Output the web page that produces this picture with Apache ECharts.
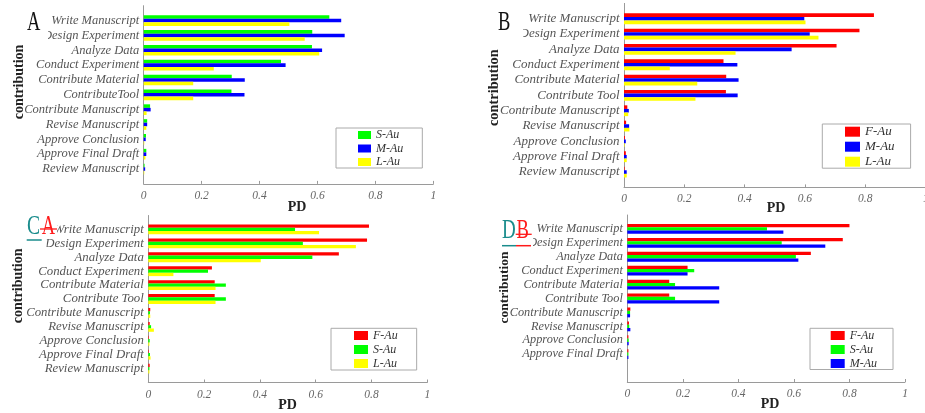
<!DOCTYPE html>
<html>
<head>
<meta charset="utf-8">
<script src="https://cdn.jsdelivr.net/npm/echarts@6/dist/echarts.min.js"></script>
<style>
html,body{margin:0;padding:0;background:#fff;}
#chart{width:925px;height:413px;}
</style>
</head>
<body>
<div id="chart"></div>
<script>
// ---------- data ----------
const catsA = ['Write Manuscript','Design Experiment','Analyze Data','Conduct Experiment','Contribute Material','ContributeTool','Contribute Manuscript','Revise Manuscript','Approve Conclusion','Approve Final Draft','Review Manuscript'];
const catsB = ['Write Manuscript','Design Experiment','Analyze Data','Conduct Experiment','Contribute Material','Contribute Tool','Contribute Manuscript','Revise Manuscript','Approve Conclusion','Approve Final Draft','Review Manuscript'];
const catsC = catsB.slice();
const catsD = ['Write Manuscript','Design Experiment','Analyze Data','Conduct Experiment','Contribute Material','Contribute Tool','Contribute Manuscript','Revise Manuscript','Approve Conclusion','Approve Final Draft'];

const xTicks = [0, 0.2, 0.4, 0.6, 0.8, 1];

const A_S = [0.641,0.582,0.581,0.474,0.304,0.303,0.022,0.012,0.008,0.009,0.003];
const A_M = [0.682,0.694,0.616,0.490,0.349,0.348,0.024,0.012,0.007,0.009,0.005];
const A_L = [0.503,0.556,0.606,0.242,0.171,0.171,0.010,0.009,0.002,0.006,0.002];

const B_F = [0.829,0.781,0.705,0.330,0.339,0.338,0.011,0.007,0.003,0.006,0.002];
const B_M = [0.598,0.616,0.556,0.376,0.380,0.377,0.016,0.017,0.006,0.009,0.009];
const B_L = [0.602,0.645,0.370,0.152,0.243,0.237,0.014,0.018,0.002,0.009,0.009];

const C_F = [0.791,0.784,0.683,0.228,0.238,0.238,0.007,0.005,0.002,0.002,0.005];
const C_S = [0.526,0.554,0.588,0.214,0.278,0.278,0.006,0.010,0.005,0.006,0.004];
const C_L = [0.612,0.744,0.403,0.090,0.241,0.241,0.007,0.020,0.004,0.008,0.004];

const D_F = [0.800,0.776,0.661,0.217,0.151,0.151,0.011,0.006,0.004,0.004];
const D_S = [0.503,0.556,0.607,0.241,0.172,0.172,0.010,0.007,0.005,0.004];
const D_M = [0.562,0.713,0.616,0.217,0.331,0.331,0.010,0.011,0.005,0.004];

// ---------- style ----------
const SERIF = '"Liberation Serif","Times New Roman",serif';
const COLORS = {'F-Au':'#ff0000','S-Au':'#00ff00','M-Au':'#0000ff','L-Au':'#ffff00'};
const NSLOT = 13;

function pad(arr, fill){
  const out = [fill].concat(arr);
  while(out.length < NSLOT) out.push(fill);
  return out;
}

const panels = [
  {grid:{left:143.7, top:5.7, width:289.6, height:178.2}, cats:catsA, labelSize:12.5, barW:3.55,
   series:[['S-Au',A_S],['M-Au',A_M],['L-Au',A_L]],
   legend:{left:336, top:128, padding:[1,19,0,22], itemWidth:13, itemHeight:8, itemGap:1.5, fontSize:12}},
  {grid:{left:624, top:3.4, width:301.5, height:184}, cats:catsB, labelSize:13, barW:3.6,
   series:[['F-Au',B_F],['M-Au',B_M],['L-Au',B_L]],
   legend:{left:822.3, top:124, padding:[1.2,16,0,22.7], itemWidth:15, itemHeight:10, itemGap:2, fontSize:13}},
  {grid:{left:148.3, top:215.5, width:279, height:167}, cats:catsC, labelSize:12.8, barW:3.3,
   series:[['F-Au',C_F],['S-Au',C_S],['L-Au',C_L]],
   legend:{left:331, top:328.3, padding:[1.2,19,0.5,23], itemWidth:14, itemHeight:9, itemGap:2, fontSize:12}},
  {grid:{left:627.3, top:215, width:277.7, height:167}, cats:catsD, labelSize:12.3, barW:3.3,
   series:[['F-Au',D_F],['S-Au',D_S],['M-Au',D_M]],
   legend:{left:810, top:328.3, padding:[1.2,16,0,20.7], itemWidth:14, itemHeight:9, itemGap:2, fontSize:12}}
];

const grid = [], xAxis = [], yAxis = [], series = [], legend = [];
panels.forEach((p, i) => {
  grid.push(Object.assign({containLabel:false, outerBoundsMode:'none'}, p.grid));
  xAxis.push({
    type:'value', gridIndex:i, min:xTicks[0], max:xTicks[xTicks.length-1],
    interval:xTicks[1]-xTicks[0],
    axisLine:{show:true, lineStyle:{color:'#9a9a9a', width:1}},
    axisTick:{show:true, inside:true, length:3, lineStyle:{color:'#9a9a9a'}},
    splitLine:{show:false},
    axisLabel:{margin:6, fontFamily:SERIF, fontStyle:'italic', fontSize:11.5, color:'#666'}
  });
  yAxis.push({
    type:'category', gridIndex:i, inverse:true, boundaryGap:false,
    data:pad(p.cats, ''),
    axisLine:{show:true, lineStyle:{color:'#9a9a9a', width:1}},
    axisTick:{show:false},
    splitLine:{show:false},
    axisLabel:{interval:0, margin:4.5, fontFamily:SERIF, fontStyle:'italic', fontSize:p.labelSize, color:'#555'}
  });
  p.series.forEach(([name, vals]) => {
    series.push({
      type:'bar', name:name, xAxisIndex:i, yAxisIndex:i,
      data:pad(vals, null), barWidth:p.barW, barGap:'0%',
      itemStyle:{color:COLORS[name]}, silent:true
    });
  });
  const L = p.legend;
  legend.push({
    data:p.series.map(s=>s[0]), orient:'vertical', left:L.left, top:L.top,
    padding:L.padding, itemWidth:L.itemWidth, itemHeight:L.itemHeight, itemGap:L.itemGap,
    icon:'rect', borderColor:'#aaa', borderWidth:1, backgroundColor:'#fff',
    selectedMode:false,
    textStyle:{fontFamily:SERIF, fontStyle:'italic', fontSize:L.fontSize, lineHeight:L.fontSize, color:'#333'}
  });
});

function txt(t, x, y, opt){
  return Object.assign({type:'text', x:x, y:y, z:100,
    style:Object.assign({text:t, fontFamily:SERIF, textAlign:'center', textVerticalAlign:'middle', verticalAlign:'middle', fill:'#222'}, opt.style||{})},
    opt.el||{});
}
function rect(x,y,w,h){ return {type:'rect', z:90, shape:{x:x,y:y,width:w,height:h}, style:{fill:'#fff'}}; }
function line(x1,y1,x2,y2,color,w){ return {type:'line', z:100, shape:{x1:x1,y1:y1,x2:x2,y2:y2}, style:{stroke:color, lineWidth:w}}; }

const TEAL = '#1a8c8c', RED = '#ff1a1a';
const graphic = [
  // cover boxes behind the panel letters
  rect(0,0,48,44), rect(470,0,53,44),
  rect(0,208,57,28), rect(26,236,20.5,15),
  rect(495,208,40,28), rect(512,236,21,15),
  // panel letters
  txt('A', 27, 22.5, {style:{fontSize:28, textAlign:'left', fill:'#111'}, el:{scaleX:0.66}}),
  txt('B', 498, 22.5, {style:{fontSize:28, textAlign:'left', fill:'#111'}, el:{scaleX:0.66}}),
  txt('C', 27, 227, {style:{fontSize:28, textAlign:'left', fill:TEAL}, el:{scaleX:0.7}}),
  txt('A', 41.7, 227, {style:{fontSize:28, textAlign:'left', fill:RED}, el:{scaleX:0.66}}),
  line(26.7,240,41.7,240,TEAL,1.5),
  line(40,229,57,229,RED,1.3),
  txt('D', 502, 230.5, {style:{fontSize:28, textAlign:'left', fill:TEAL}, el:{scaleX:0.68}}),
  txt('B', 516.5, 230.5, {style:{fontSize:28, textAlign:'left', fill:RED}, el:{scaleX:0.66}}),
  line(502,245.7,516,245.7,TEAL,1.5),
  line(516,245.7,531,245.7,RED,1.5),
  line(515.7,234.3,531.7,234.3,RED,1.3),
  // axis titles
  txt('contribution', 19, 82, {style:{fontSize:14, fontWeight:'bold'}, el:{rotation:Math.PI/2}}),
  txt('contribution', 494.3, 87.7, {style:{fontSize:14.4, fontWeight:'bold'}, el:{rotation:Math.PI/2}}),
  txt('contribution', 18.3, 285.8, {style:{fontSize:14, fontWeight:'bold'}, el:{rotation:Math.PI/2}}),
  txt('contribution', 504.3, 287.5, {style:{fontSize:13.5, fontWeight:'bold'}, el:{rotation:Math.PI/2}}),
  txt('PD', 297, 207, {style:{fontSize:14, fontWeight:'bold'}}),
  txt('PD', 776, 208, {style:{fontSize:14, fontWeight:'bold'}}),
  txt('PD', 287.5, 405, {style:{fontSize:14, fontWeight:'bold'}}),
  txt('PD', 770, 404.3, {style:{fontSize:14, fontWeight:'bold'}})
];

const chart = echarts.init(document.getElementById('chart'), null, {renderer:'canvas'});
chart.setOption({
  animation:false,
  backgroundColor:'#fff',
  grid:grid, xAxis:xAxis, yAxis:yAxis, series:series, legend:legend,
  graphic:{elements:graphic}
});
</script>
</body>
</html>
